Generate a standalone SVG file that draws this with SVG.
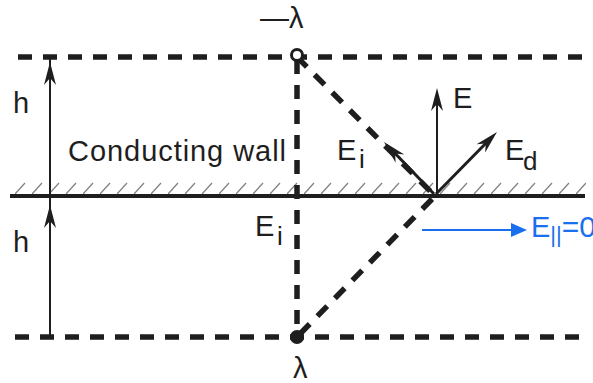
<svg xmlns="http://www.w3.org/2000/svg" xmlns:xlink="http://www.w3.org/1999/xlink" width="593" height="383" viewBox="0 0 593 383">
<style>
  text { font-family: "Liberation Sans", Arial, sans-serif; fill: #1e1e1e; font-size: 29px; }
  .sub { font-size: 26px; }
  .dash { stroke: #1e1e1e; stroke-width: 5.5; fill: none; stroke-dasharray: 14 11; }
  .thin { stroke: #1e1e1e; stroke-width: 2; fill: none; }
  .vec { stroke: #1e1e1e; stroke-width: 3; fill: none; }
  .hatch { stroke: #808080; stroke-width: 1.2; }
  .blue { fill: #1a6fee; }
</style>
<defs>
  <path id="ah" d="M0,0 L-23,-6 L-16,0 L-23,6 Z" fill="#1e1e1e"/>
  <pattern id="hatchp" x="15" y="181" width="17" height="14" patternUnits="userSpaceOnUse">
    <line x1="0" y1="13" x2="10" y2="2" class="hatch"/>
  </pattern>
</defs>

<g id="wall">
  <rect x="12" y="181" width="574" height="14" fill="url(#hatchp)"/>
  <line x1="10" y1="196" x2="585" y2="196" stroke="#1e1e1e" stroke-width="4"/>
  <text x="68" y="161" font-size="30" textLength="218">Conducting wall</text>
</g>

<g id="connectors">
  <line class="dash" x1="18" y1="57" x2="582" y2="57"/>
  <line class="dash" x1="15" y1="337" x2="582" y2="337"/>
  <line class="dash" x1="297" y1="60" x2="297" y2="337"/>
  <path class="dash" d="M297,57 L435,196 L297,337"/>
  <!-- h dimension arrows -->
  <line class="thin" x1="50" y1="196" x2="50" y2="58"/>
  <use xlink:href="#ah" transform="translate(50,62) rotate(-90)"/>
  <line class="thin" x1="50" y1="337" x2="50" y2="196"/>
  <use xlink:href="#ah" transform="translate(50,205) rotate(-90)"/>
  <!-- field vectors -->
  <line class="thin" x1="437" y1="196" x2="437" y2="95"/>
  <use xlink:href="#ah" transform="translate(437,88) rotate(-90)"/>
  <line class="vec" x1="434" y1="194" x2="389" y2="147"/>
  <use xlink:href="#ah" transform="translate(384,142) rotate(-133.9)"/>
  <line class="vec" x1="436" y1="194" x2="492" y2="137"/>
  <use xlink:href="#ah" transform="translate(497,132) rotate(-45.5)"/>
  <!-- blue annotation arrow -->
  <line x1="422" y1="230" x2="514" y2="230" stroke="#1a6fee" stroke-width="2"/>
  <path d="M527,230 L511,223 L511,237 Z" class="blue"/>
</g>

<g id="image-charge">
  <circle cx="297" cy="55" r="5.5" fill="#fff" stroke="#1e1e1e" stroke-width="3"/>
  <text x="260" y="28">—λ</text>
</g>

<g id="line-charge">
  <circle cx="297" cy="337" r="7" fill="#1e1e1e"/>
  <text x="293" y="378">λ</text>
</g>

<g id="labels">
  <text x="13" y="113">h</text>
  <text x="13" y="252">h</text>
  <text x="453" y="108">E</text>
  <text x="337" y="160">E<tspan class="sub" x="359" y="168">i</tspan></text>
  <text x="505" y="160">E<tspan class="sub" x="523" y="170">d</tspan></text>
  <text x="255" y="236">E<tspan class="sub" x="277" y="245">i</tspan></text>
  <text x="531" y="237" class="blue" font-size="29">E<tspan font-size="22" y="242">||</tspan><tspan y="237" font-size="30">=0</tspan></text>
</g>
</svg>
